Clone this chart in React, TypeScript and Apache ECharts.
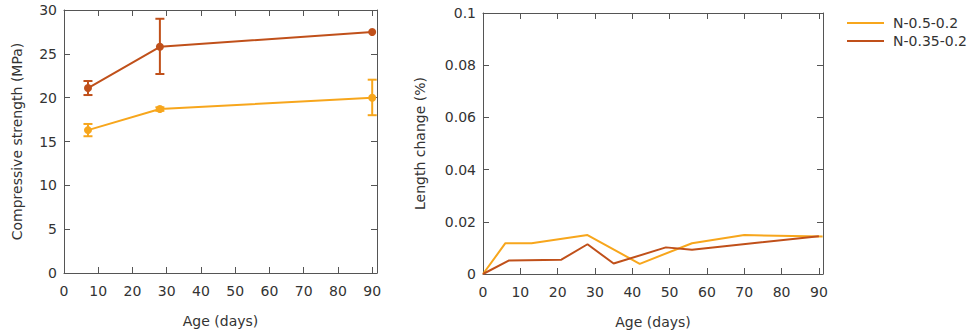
import React, { useEffect, useRef } from "react";
import * as echarts from "echarts";

// ---- data ----
const strengthDays = [7, 28, 90];
const strengthA = [16.3, 18.7, 20.0]; // N-0.5-0.2
const strengthALow = [15.6, 18.5, 18.0];
const strengthAHigh = [17.0, 18.9, 22.05];
const strengthB = [21.1, 25.8, 27.5]; // N-0.35-0.2
const strengthBLow = [20.3, 22.7, 27.5];
const strengthBHigh = [21.9, 29.0, 27.5];

const lengthADays = [0, 6, 13, 28, 42, 56, 70, 91];
const lengthA = [0, 0.0118, 0.0118, 0.0149, 0.0039, 0.0118, 0.0149, 0.0144];
const lengthBDays = [0, 7, 21, 28, 35, 49, 56, 90];
const lengthB = [0, 0.0052, 0.0055, 0.0114, 0.004, 0.0102, 0.0093, 0.0145];

const seriesNames = ["N-0.5-0.2", "N-0.35-0.2"];
const xTicks = [0, 10, 20, 30, 40, 50, 60, 70, 80, 90];

const COLOR_A = "#f7a61c";
const COLOR_B = "#c0501a";
const FRAME = "#555";
const TEXT = "#333";
const FONT = "DejaVu Sans";
const FS = 14;

export default function App() {
  const ref = useRef<HTMLDivElement>(null);
  useEffect(() => {
    if (!ref.current) return;
    const chart = echarts.init(ref.current, undefined, { renderer: "svg" });

    const pairs = (xs: number[], ys: number[]) => xs.map((x, i) => [x, ys[i]]);
    const errData = (ys: number[], lo: number[], hi: number[]) =>
      strengthDays.map((x, i) => [x, ys[i], lo[i], hi[i]]);

    const errRender = (color: string) => (params: any, api: any) => {
      const x = api.value(0);
      const lo = api.value(2);
      const hi = api.value(3);
      if (hi - lo < 1e-9) return { type: "group", children: [] };
      const pHi = api.coord([x, hi]);
      const pLo = api.coord([x, lo]);
      const cap = 4.5;
      const style = { stroke: color, lineWidth: 2 };
      return {
        type: "group",
        children: [
          { type: "line", shape: { x1: pHi[0], y1: pHi[1], x2: pLo[0], y2: pLo[1] }, style },
          { type: "line", shape: { x1: pHi[0] - cap, y1: pHi[1], x2: pHi[0] + cap, y2: pHi[1] }, style },
          { type: "line", shape: { x1: pLo[0] - cap, y1: pLo[1], x2: pLo[0] + cap, y2: pLo[1] }, style },
        ],
      };
    };

    const tickLabel = { fontFamily: FONT, fontSize: FS, color: TEXT };
    const axisLine = { show: true, onZero: false, lineStyle: { color: FRAME, width: 1 } };
    const axisTick = { show: true, inside: true, length: 6, lineStyle: { color: FRAME } };
    const xFmt = (v: number) => (xTicks.includes(Math.round(v * 1000) / 1000) ? String(v) : "");

    const makeX = (grid: number, max: number) => [
      {
        type: "value", gridIndex: grid, min: 0, max, interval: 10, position: "bottom",
        axisLine, axisTick, splitLine: { show: false },
        axisLabel: { ...tickLabel, margin: 11, formatter: xFmt },
        name: "Age (days)", nameLocation: "middle", nameGap: 41,
        nameTextStyle: { fontFamily: FONT, fontSize: FS, color: TEXT },
      },
      {
        type: "value", gridIndex: grid, min: 0, max, interval: 10, position: "top",
        axisLine, axisTick, axisLabel: { show: false }, splitLine: { show: false },
      },
    ];
    const makeY = (grid: number, max: number, interval: number, name: string, gap: number) => [
      {
        type: "value", gridIndex: grid, min: 0, max, interval, position: "left",
        axisLine, axisTick, splitLine: { show: false },
        axisLabel: { ...tickLabel, margin: 7 },
        name, nameLocation: "middle", nameGap: gap,
        nameTextStyle: { fontFamily: FONT, fontSize: FS, color: TEXT },
      },
      {
        type: "value", gridIndex: grid, min: 0, max, interval, position: "right",
        axisLine, axisTick, axisLabel: { show: false }, splitLine: { show: false },
      },
    ];

    chart.setOption({
      animation: false,
      textStyle: { fontFamily: FONT },
      grid: [
        { left: 64, top: 10, width: 313, height: 263 },
        { left: 483, top: 13, width: 340, height: 261 },
      ],
      xAxis: [...makeX(0, 91.4), ...makeX(1, 91.1)],
      yAxis: [
        ...makeY(0, 30, 5, "Compressive strength (MPa)", 40),
        ...makeY(1, 0.1, 0.02, "Length change (%)", 56),
      ],
      legend: {
        data: seriesNames.map((n) => ({ name: n, icon: "rect" })),
        orient: "vertical",
        left: 847,
        top: 16,
        padding: 0,
        itemWidth: 37,
        itemHeight: 2,
        itemGap: 4,
        textStyle: { fontFamily: FONT, fontSize: FS, color: TEXT, padding: [0, 0, 0, 4] },
      },
      series: [
        {
          name: "strength " + seriesNames[0], type: "line", xAxisIndex: 0, yAxisIndex: 0,
          data: pairs(strengthDays, strengthA), symbol: "circle", symbolSize: 8,
          lineStyle: { color: COLOR_A, width: 2 }, itemStyle: { color: COLOR_A },
        },
        {
          name: "strength " + seriesNames[1], type: "line", xAxisIndex: 0, yAxisIndex: 0,
          data: pairs(strengthDays, strengthB), symbol: "circle", symbolSize: 8,
          lineStyle: { color: COLOR_B, width: 2 }, itemStyle: { color: COLOR_B },
        },
        {
          name: "err A", type: "custom", xAxisIndex: 0, yAxisIndex: 0,
          data: errData(strengthA, strengthALow, strengthAHigh),
          encode: { x: 0, y: [1, 2, 3] }, renderItem: errRender(COLOR_A), z: 3,
        },
        {
          name: "err B", type: "custom", xAxisIndex: 0, yAxisIndex: 0,
          data: errData(strengthB, strengthBLow, strengthBHigh),
          encode: { x: 0, y: [1, 2, 3] }, renderItem: errRender(COLOR_B), z: 3,
        },
        {
          name: seriesNames[0], type: "line", xAxisIndex: 2, yAxisIndex: 2,
          data: pairs(lengthADays, lengthA), symbol: "none",
          lineStyle: { color: COLOR_A, width: 2 }, itemStyle: { color: COLOR_A },
        },
        {
          name: seriesNames[1], type: "line", xAxisIndex: 2, yAxisIndex: 2,
          data: pairs(lengthBDays, lengthB), symbol: "none",
          lineStyle: { color: COLOR_B, width: 2 }, itemStyle: { color: COLOR_B },
        },
      ],
    });
    return () => chart.dispose();
  }, []);
  return <div ref={ref} style={{ width: 968, height: 336, position: "absolute", left: 0, top: 0 }} />;
}
